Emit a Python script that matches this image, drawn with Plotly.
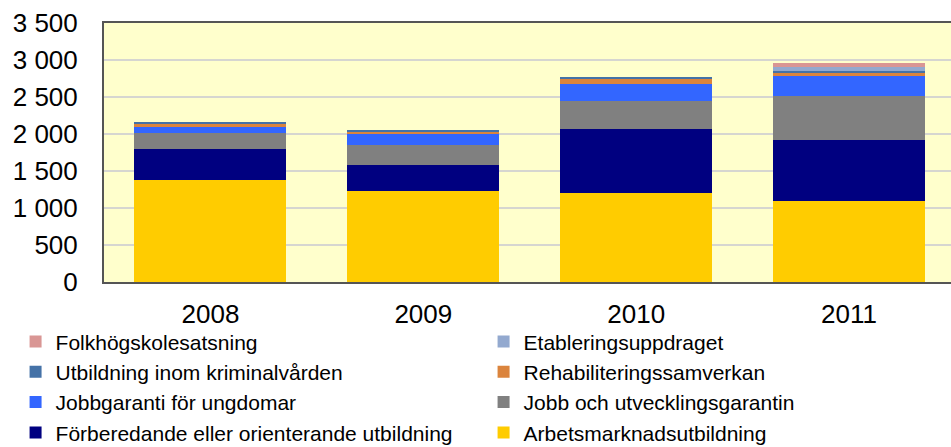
import plotly.graph_objects as go

years = ["2008", "2009", "2010", "2011"]

arbetsmarknad = [1385, 1227, 1205, 1092]
forberedande = [415, 351, 869, 824]
jobb_utv = [207, 270, 378, 595]
jobbgaranti = [90, 149, 225, 270]
rehab = [35, 36, 72, 46]
kriminal = [27, 27, 23, 22]
etablering = [0, 0, 0, 59]
folkhog = [0, 0, 0, 45]

series = [
    ("Arbetsmarknadsutbildning", arbetsmarknad, "#FFCC00"),
    ("Förberedande eller orienterande utbildning", forberedande, "#000080"),
    ("Jobb och utvecklingsgarantin", jobb_utv, "#808080"),
    ("Jobbgaranti för ungdomar", jobbgaranti, "#3366FF"),
    ("Rehabiliteringssamverkan", rehab, "#DB843D"),
    ("Utbildning inom kriminalvården", kriminal, "#4572A7"),
    ("Etableringsuppdraget", etablering, "#93A9CF"),
    ("Folkhögskolesatsning", folkhog, "#D99694"),
]

fig = go.Figure()
for name, vals, col in series:
    fig.add_trace(go.Bar(x=years, y=vals, name=name, marker=dict(color=col, line=dict(width=0))))

font = "Liberation Sans, Arial, sans-serif"
fig.update_layout(
    barmode="stack",
    bargap=0.286,
    width=951, height=447,
    margin=dict(l=103.5, r=0, t=23, b=164.5, autoexpand=False),
    plot_bgcolor="#FFFFCC",
    paper_bgcolor="white",
    separators=", ",
    font=dict(family=font, color="black"),
    showlegend=True,
    legend=dict(
        orientation="h",
        traceorder="reversed",
        bgcolor="rgba(0,0,0,0)",
        x=-0.1044, y=-0.152, xanchor="left", yanchor="top",
        entrywidth=423, entrywidthmode="pixels",
        font=dict(size=21, family=font),
        itemwidth=30,
    ),
)
fig.update_xaxes(
    type="category",
    range=[-0.5, 3.479],
    showline=True, linecolor="#555555", linewidth=2, mirror=True,
    showgrid=False,
    tickfont=dict(size=26),
    ticks="",
    ticklabelstandoff=8,
)
fig.update_yaxes(
    range=[0, 3500],
    dtick=500,
    tickformat=",d",
    showline=True, linecolor="#555555", linewidth=2,
    showgrid=True, gridcolor="#D6D6D0", gridwidth=2,
    tickfont=dict(size=26),
    ticks="",
    ticklabelstandoff=19,
    zeroline=False,
)

fig.write_html(
    "out.html",
    config={"displayModeBar": False},
    post_script="document.body.style.margin='0';document.body.style.overflow='hidden';",
)
